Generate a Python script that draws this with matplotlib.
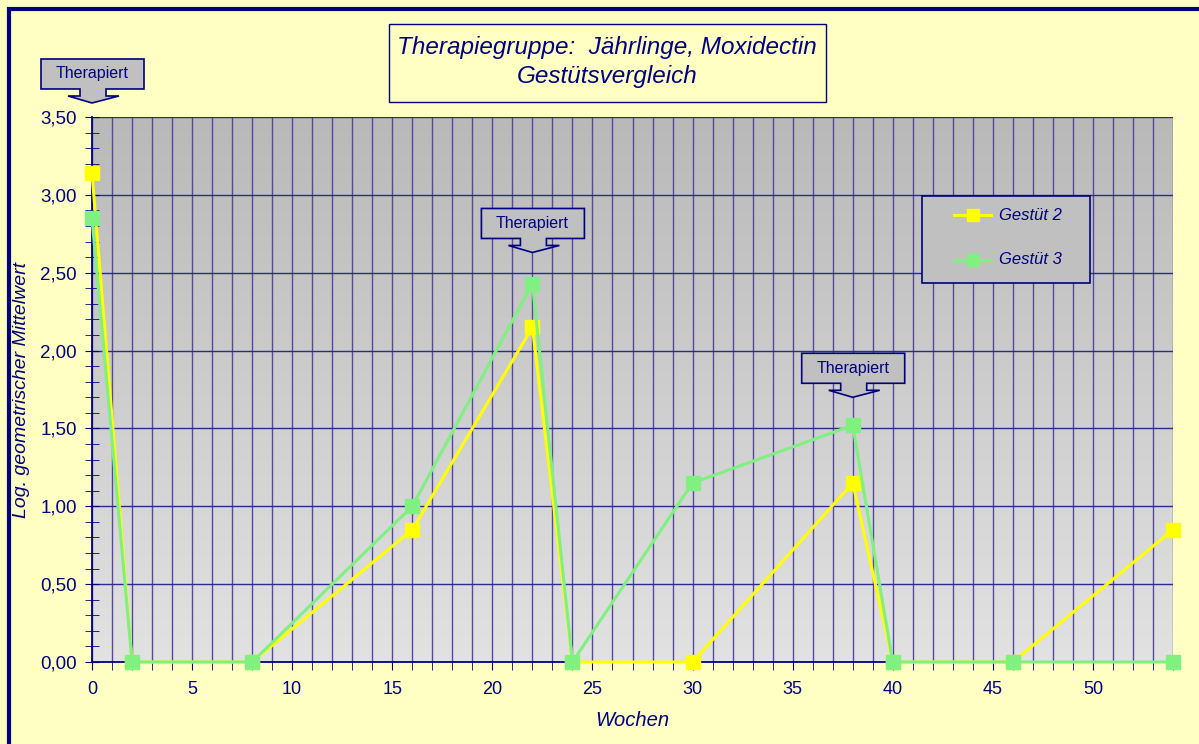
import numpy as np
import matplotlib
matplotlib.use('Agg')
import matplotlib.pyplot as plt
import matplotlib.transforms as mtransforms
from matplotlib.patches import Rectangle, Polygon
from matplotlib.lines import Line2D
from matplotlib.ticker import MultipleLocator, FuncFormatter

plt.rcParams['font.family'] = ['Liberation Sans', 'DejaVu Sans']

# Data (log. geometrischer Mittelwert je Woche)
wochen = [0, 2, 8, 16, 22, 24, 30, 38, 40, 46, 54]
gestuet_2 = [3.14, 0.00, 0.00, 0.85, 2.15, 0.00, 0.00, 1.15, 0.00, 0.00, 0.85]
gestuet_3 = [2.85, 0.00, 0.00, 1.00, 2.43, 0.00, 1.15, 1.52, 0.00, 0.00, 0.00]

# treatment callouts: week and height of the arrow tip
therapie_wochen = [0, 22, 38]
therapie_hoehe = [3.59, 2.63, 1.70]

navy = '#000080'
bg = '#FFFFC4'
yellow = '#FFFF00'
green = '#80F080'

W, H = 1199, 744
fig = plt.figure(figsize=(W / 100, H / 100), dpi=100, facecolor=bg)
ax = fig.add_axes([92 / W, (H - 662) / H, (1173 - 92) / W, (662 - 117) / H])
ax.set_xlim(0, 54)
ax.set_ylim(0, 3.5)

# gradient background of the plot area
grad = np.linspace(0, 1, 256).reshape(-1, 1)
cmap = matplotlib.colors.LinearSegmentedColormap.from_list('g', ['#E2E2E2', '#B9B9B9'])
ax.imshow(grad, cmap=cmap, aspect='auto', extent=(0, 54, 0, 3.5), origin='lower', zorder=0)

# grid
for x in range(0, 55):
    ax.axvline(x, color='#5548A0', lw=1, zorder=1)
for y in np.arange(0.5, 3.51, 0.5):
    ax.axhline(y, color='#2A2A90', lw=1, zorder=1)

for s in ['top', 'right']:
    ax.spines[s].set_visible(False)
for s in ['left', 'bottom']:
    ax.spines[s].set_color(navy)
    ax.spines[s].set_linewidth(1.3)
    ax.spines[s].set_zorder(2)

ax.xaxis.set_major_locator(MultipleLocator(5))
ax.xaxis.set_minor_locator(MultipleLocator(1))
ax.yaxis.set_major_locator(MultipleLocator(0.5))
ax.yaxis.set_minor_locator(MultipleLocator(0.1))
ax.yaxis.set_major_formatter(FuncFormatter(lambda v, p: f'{v:.2f}'.replace('.', ',')))
ax.tick_params(axis='x', which='both', direction='out', length=6, color=navy,
               labelcolor=navy, labelsize=13, pad=8)
ax.tick_params(axis='y', which='both', direction='inout', length=10, color=navy,
               labelcolor=navy, labelsize=13.5, pad=6)

ax.set_xlabel('Wochen', fontsize=14.5, style='italic', color=navy, labelpad=9)

# series
ax.plot(wochen, gestuet_2, color=yellow, lw=2.2, marker='s', ms=10, mec=yellow,
        clip_on=False, zorder=4, label='Gestüt 2')
ax.plot(wochen, gestuet_3, color=green, lw=2.2, marker='s', ms=10, mec=green,
        clip_on=False, zorder=5, label='Gestüt 3')

# "Therapiert" callouts (shape in pixels relative to the arrow tip)
shape = [(-51, 44), (52, 44), (52, 14), (14, 14), (14, 7), (27, 7), (0, 0),
         (-24, 7), (-12, 7), (-12, 14), (-51, 14)]
for xw, yh in zip(therapie_wochen, therapie_hoehe):
    trans = mtransforms.Affine2D() + mtransforms.ScaledTranslation(xw, yh, ax.transData)
    ax.add_patch(Polygon(shape, closed=True, facecolor='#C0C0C0', edgecolor=navy,
                         lw=1.2, transform=trans, clip_on=False, zorder=6))
    ax.text(0, 29, 'Therapiert', transform=trans, ha='center', va='center',
            fontsize=11.5, color=navy, zorder=7, clip_on=False)

px = mtransforms.IdentityTransform()

# y axis label
fig.text(22, H - 390, 'Log. geometrischer Mittelwert', transform=px, rotation=90,
         ha='center', va='center', fontsize=14, style='italic', color=navy)

# outer frame
fig.add_artist(Rectangle((9, -20), 1300, H - 9 + 20, fill=False, edgecolor=navy,
                         lw=3, transform=px))

# title box
fig.add_artist(Rectangle((389, H - 102), 437, 78, facecolor=bg, edgecolor=navy,
                         lw=1, transform=px))
fig.text(607, H - 62, 'Therapiegruppe:  Jährlinge, Moxidectin\nGestütsvergleich',
         transform=px, ha='center', va='center', fontsize=17.5, style='italic',
         color=navy, linespacing=1.35)

# legend
fig.add_artist(Rectangle((922, H - 283), 168, 87, facecolor='#C0C0C0', edgecolor=navy,
                         lw=1.2, transform=px, zorder=8))
for yy, col, lab in [(215, yellow, 'Gestüt 2'), (260, green, 'Gestüt 3')]:
    fig.add_artist(Line2D([954, 991], [H - yy, H - yy], color=col, lw=2.2,
                          transform=px, zorder=9))
    fig.add_artist(Line2D([972.5], [H - yy], color=col, marker='s', ms=8, mec=col,
                          transform=px, zorder=9))
    fig.text(999, H - yy, lab, transform=px, ha='left', va='center', fontsize=12,
             style='italic', color=navy, zorder=9)

fig.savefig('out.png', dpi=100, facecolor=bg)
